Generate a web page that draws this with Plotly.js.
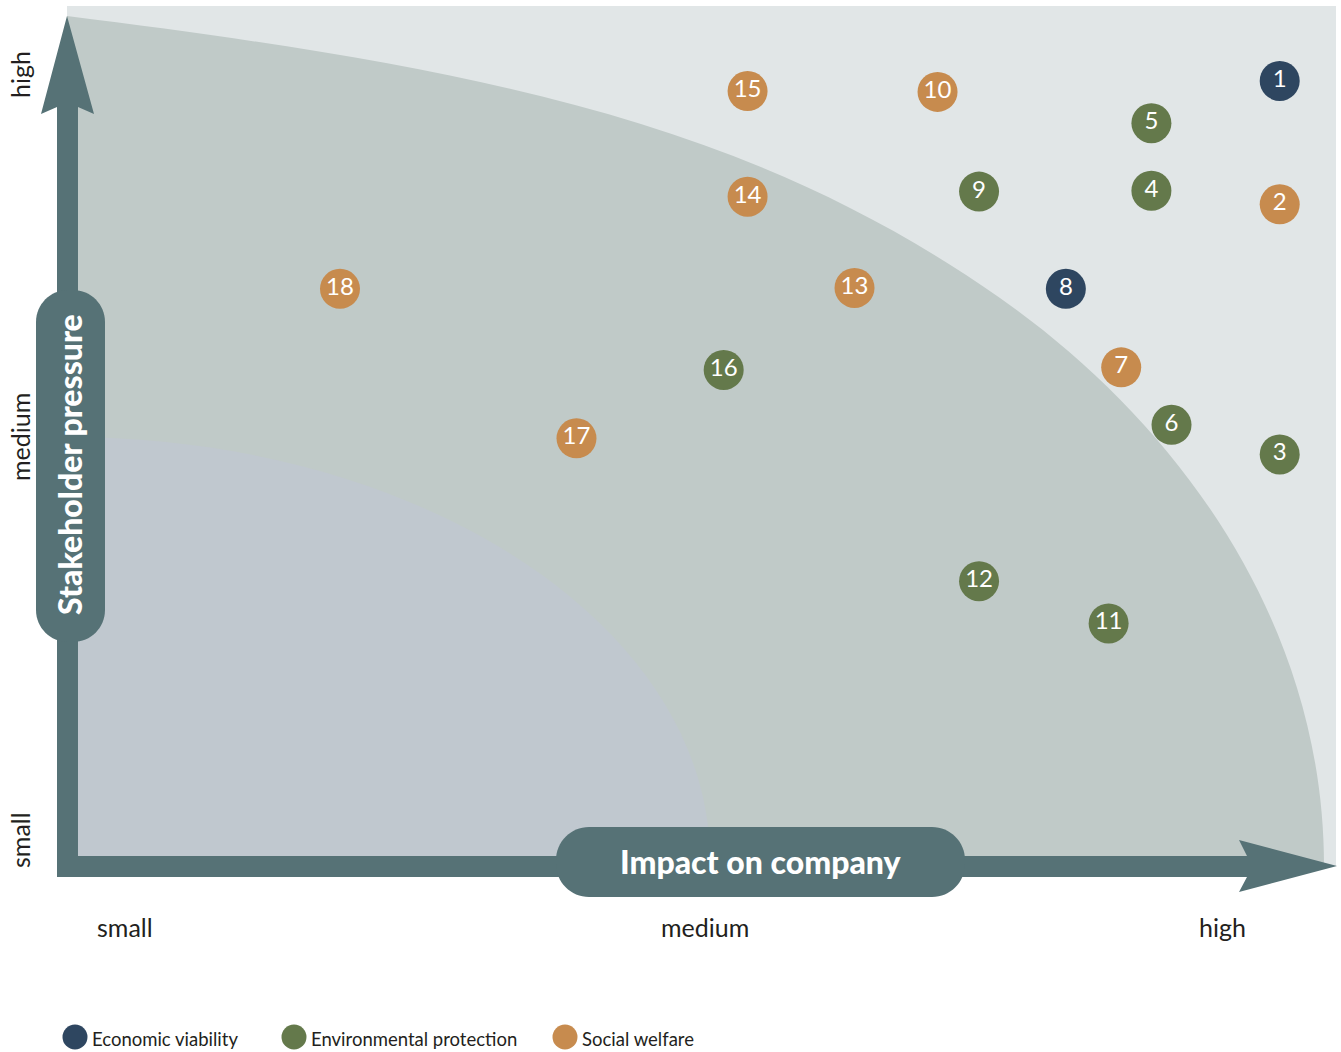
<!DOCTYPE html>
<html>
<head>
<meta charset="utf-8">
<script src="https://cdn.plot.ly/plotly-3.0.1.min.js"></script>
<style>html,body{margin:0;padding:0;background:#fff}#chart{width:1341px;height:1052px}</style>
</head>
<body>
<div id="chart"></div>
<script>
// ---- data ----
const issueIds = [1, 2, 3, 4, 5, 6, 7, 8, 9, 10, 11, 12, 13, 14, 15, 16, 17, 18];
const impactOnCompany = [9.64, 9.64, 9.64, 8.62, 8.62, 8.78, 8.38, 7.94, 7.25, 6.92, 8.28, 7.25, 6.26, 5.41, 5.41, 5.22, 4.05, 2.17];
const stakeholderPressure = [9.22, 7.76, 4.80, 7.92, 8.72, 5.15, 5.83, 6.76, 7.91, 9.09, 2.80, 3.30, 6.77, 7.85, 9.10, 5.80, 4.99, 6.76];
const issueCategory = ['Economic viability', 'Social welfare', 'Environmental protection', 'Environmental protection',
  'Environmental protection', 'Environmental protection', 'Social welfare', 'Economic viability',
  'Environmental protection', 'Social welfare', 'Environmental protection', 'Environmental protection',
  'Social welfare', 'Social welfare', 'Social welfare', 'Environmental protection', 'Social welfare', 'Social welfare'];
const categories = ['Economic viability', 'Environmental protection', 'Social welfare'];
const levelLabels = ['small', 'medium', 'high'];
const xTitle = 'Impact on company';
const yTitle = 'Stakeholder pressure';

// ---- styles ----
const categoryColors = ['#2e4660', '#64794b', '#c78b4e'];
const arrowColor = '#567276';
const textColor = '#231f20';
const FONT = 'Lato, "Open Sans", sans-serif';

// pixel -> data helpers for decorative geometry (axis: 0..10 scale)
const X = px => (px - 67) / 125.8;
const Y = py => (860 - py) / 84.5;
const P = (px, py) => X(px).toFixed(4) + ',' + Y(py).toFixed(4);

function polygon(pts) {
  return 'M' + pts.map(p => P(p[0], p[1])).join(' L') + ' Z';
}
function roundedRect(l, t, r, b, rad) {
  const k = 0.5523 * rad;
  return 'M' + P(l + rad, t) + ' L' + P(r - rad, t) +
    ' C' + P(r - rad + k, t) + ' ' + P(r, t + rad - k) + ' ' + P(r, t + rad) +
    ' L' + P(r, b - rad) +
    ' C' + P(r, b - rad + k) + ' ' + P(r - rad + k, b) + ' ' + P(r - rad, b) +
    ' L' + P(l + rad, b) +
    ' C' + P(l + rad - k, b) + ' ' + P(l, b - rad + k) + ' ' + P(l, b - rad) +
    ' L' + P(l, t + rad) +
    ' C' + P(l, t + rad - k) + ' ' + P(l + rad - k, t) + ' ' + P(l + rad, t) + ' Z';
}

// outer (priority) zone boundary: two cubic segments
const outerPath = 'M' + P(67, 866) + ' L' + P(67, 16) +
  ' C' + P(487, 68.5) + ' ' + P(750, 123) + ' ' + P(1000, 298) +
  ' C' + P(1170, 417) + ' ' + P(1324, 616) + ' ' + P(1324, 866) + ' Z';

const kq = 0.5523;
const innerPath = 'M' + P(67, 860) + ' L' + P(67, 437) +
  ' C' + P(67 + kq * 643, 437) + ' ' + P(710, 860 - kq * 423) + ' ' + P(710, 860) + ' Z';

const arrowPath = polygon([[57,877],[57,107],[41,114],[67,16],[94,114],[78,107],[78,856],[1247,856],
  [1239,840],[1337,866],[1239,892],[1247,877]]);

const shapes = [
  {type: 'rect', xref: 'x', yref: 'y', x0: X(67), x1: X(1336), y0: Y(866), y1: Y(6),
   fillcolor: '#e1e6e7', line: {width: 0}, layer: 'below'},
  {type: 'path', xref: 'x', yref: 'y', path: outerPath, fillcolor: '#c0cac8', line: {width: 0}, layer: 'below'},
  {type: 'path', xref: 'x', yref: 'y', path: innerPath, fillcolor: '#c0c8cf', line: {width: 0}, layer: 'below'},
  {type: 'path', xref: 'x', yref: 'y', path: arrowPath, fillcolor: arrowColor, line: {width: 0}, layer: 'below'},
  {type: 'path', xref: 'x', yref: 'y', path: roundedRect(36, 290, 105, 642, 32), fillcolor: arrowColor, line: {width: 0}, layer: 'below'},
  {type: 'path', xref: 'x', yref: 'y', path: roundedRect(556, 827, 965, 897, 33), fillcolor: arrowColor, line: {width: 0}, layer: 'below'}
];

const annotations = [
  {x: X(761), y: Y(861), text: xTitle, showarrow: false, xanchor: 'center', yanchor: 'middle',
   font: {family: FONT, size: 32, color: '#ffffff', weight: 900}},
  {x: X(69), y: Y(465), text: yTitle, showarrow: false, textangle: -90, xanchor: 'center', yanchor: 'middle',
   font: {family: FONT, size: 32, color: '#ffffff', weight: 900}}
];
const xLabelPx = [125, 705, 1222];
const yLabelPx = [840, 437, 75];
levelLabels.forEach((lab, i) => {
  annotations.push({x: X(xLabelPx[i]), y: Y(927), text: lab, showarrow: false, xanchor: 'center', yanchor: 'middle',
    font: {family: FONT, size: 25, color: textColor}});
  annotations.push({x: X(20), y: Y(yLabelPx[i]), text: lab, showarrow: false, textangle: -90, xanchor: 'center', yanchor: 'middle',
    font: {family: FONT, size: 25, color: textColor}});
});

// manual legend
const legendPx = [75, 294, 565];
categories.forEach((cat, i) => {
  const cx = legendPx[i], cy = 1037, r = 12.5;
  shapes.push({type: 'circle', xref: 'x', yref: 'y', x0: X(cx - r), x1: X(cx + r), y0: Y(cy + r), y1: Y(cy - r),
    fillcolor: categoryColors[i], line: {width: 0}});
  annotations.push({x: X(cx + 15), y: Y(1039), text: cat, showarrow: false, xanchor: 'left', yanchor: 'middle',
    font: {family: FONT, size: 18.5, color: textColor}});
});

const traces = categories.map((cat, ci) => {
  const idx = issueIds.map((_, i) => i).filter(i => issueCategory[i] === cat);
  return {
    type: 'scatter', mode: 'markers+text', name: cat,
    x: idx.map(i => impactOnCompany[i]),
    y: idx.map(i => stakeholderPressure[i]),
    text: idx.map(i => String(issueIds[i])),
    textposition: 'middle center',
    textfont: {family: FONT, size: 24, color: '#ffffff'},
    marker: {size: 40, color: categoryColors[ci], line: {width: 0}},
    cliponaxis: false, showlegend: false, hoverinfo: 'x+y+name'
  };
});

const layout = {
  width: 1341, height: 1052,
  margin: {l: 0, r: 0, t: 0, b: 0, pad: 0},
  paper_bgcolor: '#ffffff', plot_bgcolor: '#ffffff',
  xaxis: {range: [X(0), X(1341)], visible: false, fixedrange: true},
  yaxis: {range: [Y(1052), Y(0)], visible: false, fixedrange: true},
  showlegend: false,
  shapes: shapes,
  annotations: annotations
};

Plotly.newPlot('chart', traces, layout, {displayModeBar: false, staticPlot: true});
</script>
</body>
</html>
